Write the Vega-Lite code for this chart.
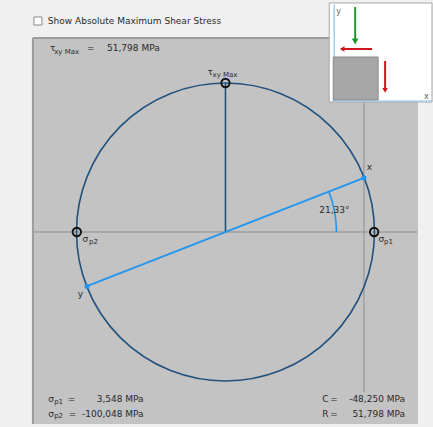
{
  "$schema": "https://vega.github.io/schema/vega-lite/v6.json",
  "width": 433,
  "height": 427,
  "autosize": {"type": "fit", "contains": "padding"},
  "padding": 0,
  "background": "#f0f0f0",
  "config": {"view": {"stroke": null}},
  "datasets": {
    "panel": [{"s": -115.34, "t": 67.44, "s2": 18.84, "t2": -66.75}],
    "border": [
      {"s": -115.34, "t": 67.44, "s2": 18.84, "t2": 67.44},
      {"s": -115.34, "t": 67.44, "s2": -115.34, "t2": -66.75}
    ],
    "axes": [
      {"s": -114.99, "t": 0, "s2": 18.5, "t2": 0},
      {"s": 0, "t": 67.44, "s2": 0, "t2": -55.62}
    ],
    "circle": [{"s": -48.25, "t": 0}],
    "tauline": [{"s": -48.25, "t": 0, "s2": -48.25, "t2": 51.798}],
    "stateline": [{"s": 0.0, "t": 18.84, "s2": -96.5, "t2": -18.84}],
    "angle": [{"s": -48.25, "t": 0}],
    "principal": [
      {"s": 3.548, "t": 0},
      {"s": -100.048, "t": 0},
      {"s": -48.25, "t": 51.798}
    ],
    "statepts": [{"s": 0.0, "t": 18.84}, {"s": -96.5, "t": -18.84}],
    "labels": [
      {"s": -109.43, "t": 62.92, "label": "τ"},
      {"s": -96.6, "t": 62.92, "label": "="},
      {"s": -89.51, "t": 62.92, "label": "51,798 MPa"},
      {"s": -54.51, "t": 54.58, "label": "τ"},
      {"s": 0.94, "t": 21.55, "label": "x"},
      {"s": -99.7, "t": -22.6, "label": "y"},
      {"s": 5.04, "t": -3.37, "label": "σ"},
      {"s": -98.07, "t": -3.37, "label": "σ"},
      {"s": -15.57, "t": 6.6, "label": "21,33°"},
      {"s": -110.02, "t": -59.27, "label": "σ"},
      {"s": -103.18, "t": -59.27, "label": "="},
      {"s": -110.02, "t": -64.14, "label": "σ"},
      {"s": -102.83, "t": -64.14, "label": "="},
      {"s": -14.53, "t": -59.27, "label": "C"},
      {"s": -11.75, "t": -59.27, "label": "="},
      {"s": -14.53, "t": -64.14, "label": "R"},
      {"s": -11.75, "t": -64.14, "label": "="}
    ],
    "values": [
      {"s": -76.76, "t": -59.27, "label": "3,548 MPa"},
      {"s": -76.76, "t": -64.14, "label": "-100,048 MPa"},
      {"s": 14.32, "t": -59.27, "label": "-48,250 MPa"},
      {"s": 14.32, "t": -64.14, "label": "51,798 MPa"}
    ],
    "subs": [
      {"s": -107.94, "t": 62.05, "label": "xy Max"},
      {"s": -52.77, "t": 53.71, "label": "xy Max"},
      {"s": 7.02, "t": -4.0, "label": "p1"},
      {"s": -95.77, "t": -4.0, "label": "p2"},
      {"s": -107.94, "t": -59.72, "label": "p1"},
      {"s": -107.94, "t": -64.59, "label": "p2"}
    ],
    "insetbox": [{"s": -12.1, "t": 79.61, "s2": 23.71, "t2": 45.19}],
    "insetaxes": [
      {"s": -10.36, "t": 78.91, "s2": -10.36, "t2": 45.54},
      {"s": -11.05, "t": 45.54, "s2": 23.71, "t2": 45.54}
    ],
    "element": [{"s": -10.7, "t": 60.84, "s2": 4.94, "t2": 45.89}],
    "greenarrow": [{"s": -3.06, "t": 78.22, "s2": -3.06, "t2": 66.4}],
    "greenhead": [{"s": -3.06, "t": 66.23}],
    "redarrows": [
      {"s": -7.9, "t": 63.62, "s2": 2.85, "t2": 63.62},
      {"s": 7.37, "t": 59.44, "s2": 7.37, "t2": 49.2}
    ],
    "redheadleft": [{"s": -7.6, "t": 63.62}],
    "redheaddown": [{"s": 7.37, "t": 49.2}],
    "insetlabels": [
      {"s": -9.66, "t": 75.78, "label": "y"},
      {"s": 20.93, "t": 46.24, "label": "x"}
    ],
    "checkbox": [{"s": -113.6, "t": 73.35}],
    "title": [{"s": -110.13, "t": 72.31, "label": "Show Absolute Maximum Shear Stress"}]
  },
  "encoding": {
    "x": {"field": "s", "type": "quantitative", "scale": {"domain": [-126.81, 23.71], "nice": false, "zero": false}, "axis": null},
    "y": {"field": "t", "type": "quantitative", "scale": {"domain": [-67.79, 80.65], "nice": false, "zero": false}, "axis": null}
  },
  "layer": [
    {"data": {"name": "panel"}, "mark": {"type": "rect", "color": "#c3c3c3"}, "encoding": {"x2": {"field": "s2"}, "y2": {"field": "t2"}}},
    {"data": {"name": "border"}, "mark": {"type": "rule", "color": "#9c9c9c", "strokeWidth": 2}, "encoding": {"x2": {"field": "s2"}, "y2": {"field": "t2"}}},
    {"data": {"name": "axes"}, "mark": {"type": "rule", "color": "#8e8e8e", "strokeWidth": 1}, "encoding": {"x2": {"field": "s2"}, "y2": {"field": "t2"}}},
    {"data": {"name": "circle"}, "mark": {"type": "point", "shape": "circle", "filled": false, "size": 88804, "stroke": "#24527f", "strokeWidth": 1.6, "opacity": 1}},
    {"data": {"name": "tauline"}, "mark": {"type": "rule", "color": "#24527f", "strokeWidth": 1.6}, "encoding": {"x2": {"field": "s2"}, "y2": {"field": "t2"}}},
    {"data": {"name": "stateline"}, "mark": {"type": "rule", "color": "#2196f0", "strokeWidth": 1.8}, "encoding": {"x2": {"field": "s2"}, "y2": {"field": "t2"}}},
    {"data": {"name": "angle"}, "mark": {"type": "arc", "color": "#2196f0", "theta": 1.1985, "theta2": 1.5708, "radius": 111.8, "radius2": 110.2}},
    {"data": {"name": "principal"}, "mark": {"type": "point", "shape": "circle", "filled": false, "size": 72, "stroke": "#111111", "strokeWidth": 1.8, "opacity": 1}},
    {"data": {"name": "statepts"}, "mark": {"type": "point", "shape": "circle", "filled": true, "size": 26, "color": "#2196f0", "opacity": 1}},
    {"data": {"name": "labels"}, "mark": {"type": "text", "align": "left", "baseline": "alphabetic", "font": "DejaVu Sans", "fontSize": 9, "color": "#2a2a2a"}, "encoding": {"text": {"field": "label"}}},
    {"data": {"name": "values"}, "mark": {"type": "text", "align": "right", "baseline": "alphabetic", "font": "DejaVu Sans", "fontSize": 9, "color": "#2a2a2a"}, "encoding": {"text": {"field": "label"}}},
    {"data": {"name": "subs"}, "mark": {"type": "text", "align": "left", "baseline": "alphabetic", "font": "DejaVu Sans", "fontSize": 7, "color": "#2a2a2a"}, "encoding": {"text": {"field": "label"}}},
    {"data": {"name": "insetbox"}, "mark": {"type": "rect", "color": "#ffffff", "stroke": "#a8a8a8", "strokeWidth": 1}, "encoding": {"x2": {"field": "s2"}, "y2": {"field": "t2"}}},
    {"data": {"name": "insetaxes"}, "mark": {"type": "rule", "color": "#86c4f2", "strokeWidth": 1.2}, "encoding": {"x2": {"field": "s2"}, "y2": {"field": "t2"}}},
    {"data": {"name": "element"}, "mark": {"type": "rect", "color": "#a6a6a6", "stroke": "#8a8a8a", "strokeWidth": 1}, "encoding": {"x2": {"field": "s2"}, "y2": {"field": "t2"}}},
    {"data": {"name": "greenarrow"}, "mark": {"type": "rule", "color": "#1f9a2a", "strokeWidth": 2}, "encoding": {"x2": {"field": "s2"}, "y2": {"field": "t2"}}},
    {"data": {"name": "greenhead"}, "mark": {"type": "point", "shape": "triangle-down", "filled": true, "size": 45, "color": "#1f9a2a", "opacity": 1}},
    {"data": {"name": "redarrows"}, "mark": {"type": "rule", "color": "#d0141e", "strokeWidth": 2}, "encoding": {"x2": {"field": "s2"}, "y2": {"field": "t2"}}},
    {"data": {"name": "redheadleft"}, "mark": {"type": "point", "shape": "triangle-left", "filled": true, "size": 30, "color": "#d0141e", "opacity": 1}},
    {"data": {"name": "redheaddown"}, "mark": {"type": "point", "shape": "triangle-down", "filled": true, "size": 30, "color": "#d0141e", "opacity": 1}},
    {"data": {"name": "insetlabels"}, "mark": {"type": "text", "align": "left", "baseline": "alphabetic", "font": "DejaVu Sans", "fontSize": 8, "color": "#666666"}, "encoding": {"text": {"field": "label"}}},
    {"data": {"name": "checkbox"}, "mark": {"type": "point", "shape": "square", "filled": true, "size": 64, "color": "#ffffff", "stroke": "#8a8a8a", "strokeWidth": 1, "opacity": 1}},
    {"data": {"name": "title"}, "mark": {"type": "text", "align": "left", "baseline": "alphabetic", "font": "DejaVu Sans", "fontSize": 9, "color": "#2a2a2a"}, "encoding": {"text": {"field": "label"}}}
  ]
}
